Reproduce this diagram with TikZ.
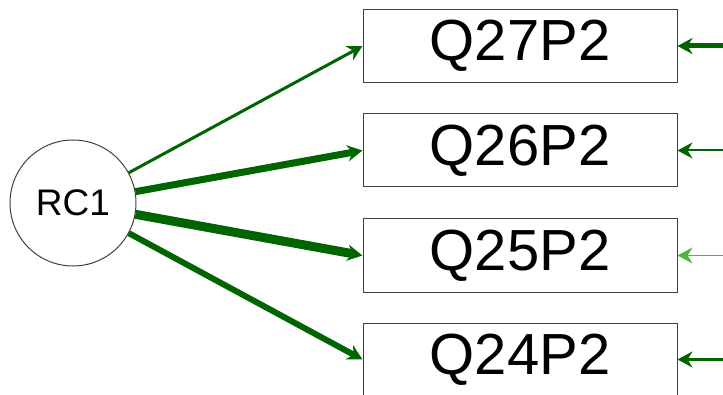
\documentclass[tikz,border=0pt]{standalone}
\usepackage{fontspec}
\setmainfont{Liberation Sans}
\usetikzlibrary{arrows.meta}
\definecolor{loadgreen}{RGB}{0,100,0}
\definecolor{residgreen}{RGB}{70,185,70}

\begin{document}
\begin{tikzpicture}[x=1pt, y=1pt, >={Stealth[length=15pt, width=16pt]},
latent/.style={draw=black!75, line width=1pt, circle, minimum size=126pt, inner sep=0pt, font=\fontsize{37}{37}\selectfont},
item/.style={draw=black!75, line width=1pt, minimum width=314pt, minimum height=73pt, inner sep=0pt, font=\fontsize{58}{58}\selectfont},
load/.style={->, draw=loadgreen}]

%%%%%% FRAME %%%%%%%%%%

\useasboundingbox (0,0) rectangle (723,394);

%%%%%% NODES %%%%%%%%%%

\node [latent] (rc1) at (73,191) {RC1};

\node [item] (q27) at (520,348) {Q27P2};
\node [item] (q26) at (520,243.5) {Q26P2};
\node [item] (q25) at (520,138.5) {Q25P2};
\node [item] (q24) at (520,34.5) {Q24P2};

\coordinate (e27) at (740,348);
\coordinate (e26) at (740,243.5);
\coordinate (e25) at (740,138.5);
\coordinate (e24) at (740,34.5);

%%%%%% LOADINGS %%%%%%%%%%

\draw [load, line width=3pt] (rc1) -- (q27.west);
\draw [load, line width=7pt] (rc1) -- (q26.west);
\draw [load, line width=9pt] (rc1) -- (q25.west);
\draw [load, line width=6pt] (rc1) -- (q24.west);

%%%%%% RESIDUALS %%%%%%%%%%

\draw [load, line width=5pt] (e27) -- (q27.east);
\draw [load, line width=2pt] (e26) -- (q26.east);
\draw [->, draw=residgreen, line width=1.5pt] (e25) -- (q25.east);
\draw [load, line width=3pt] (e24) -- (q24.east);

\end{tikzpicture}
\end{document}
